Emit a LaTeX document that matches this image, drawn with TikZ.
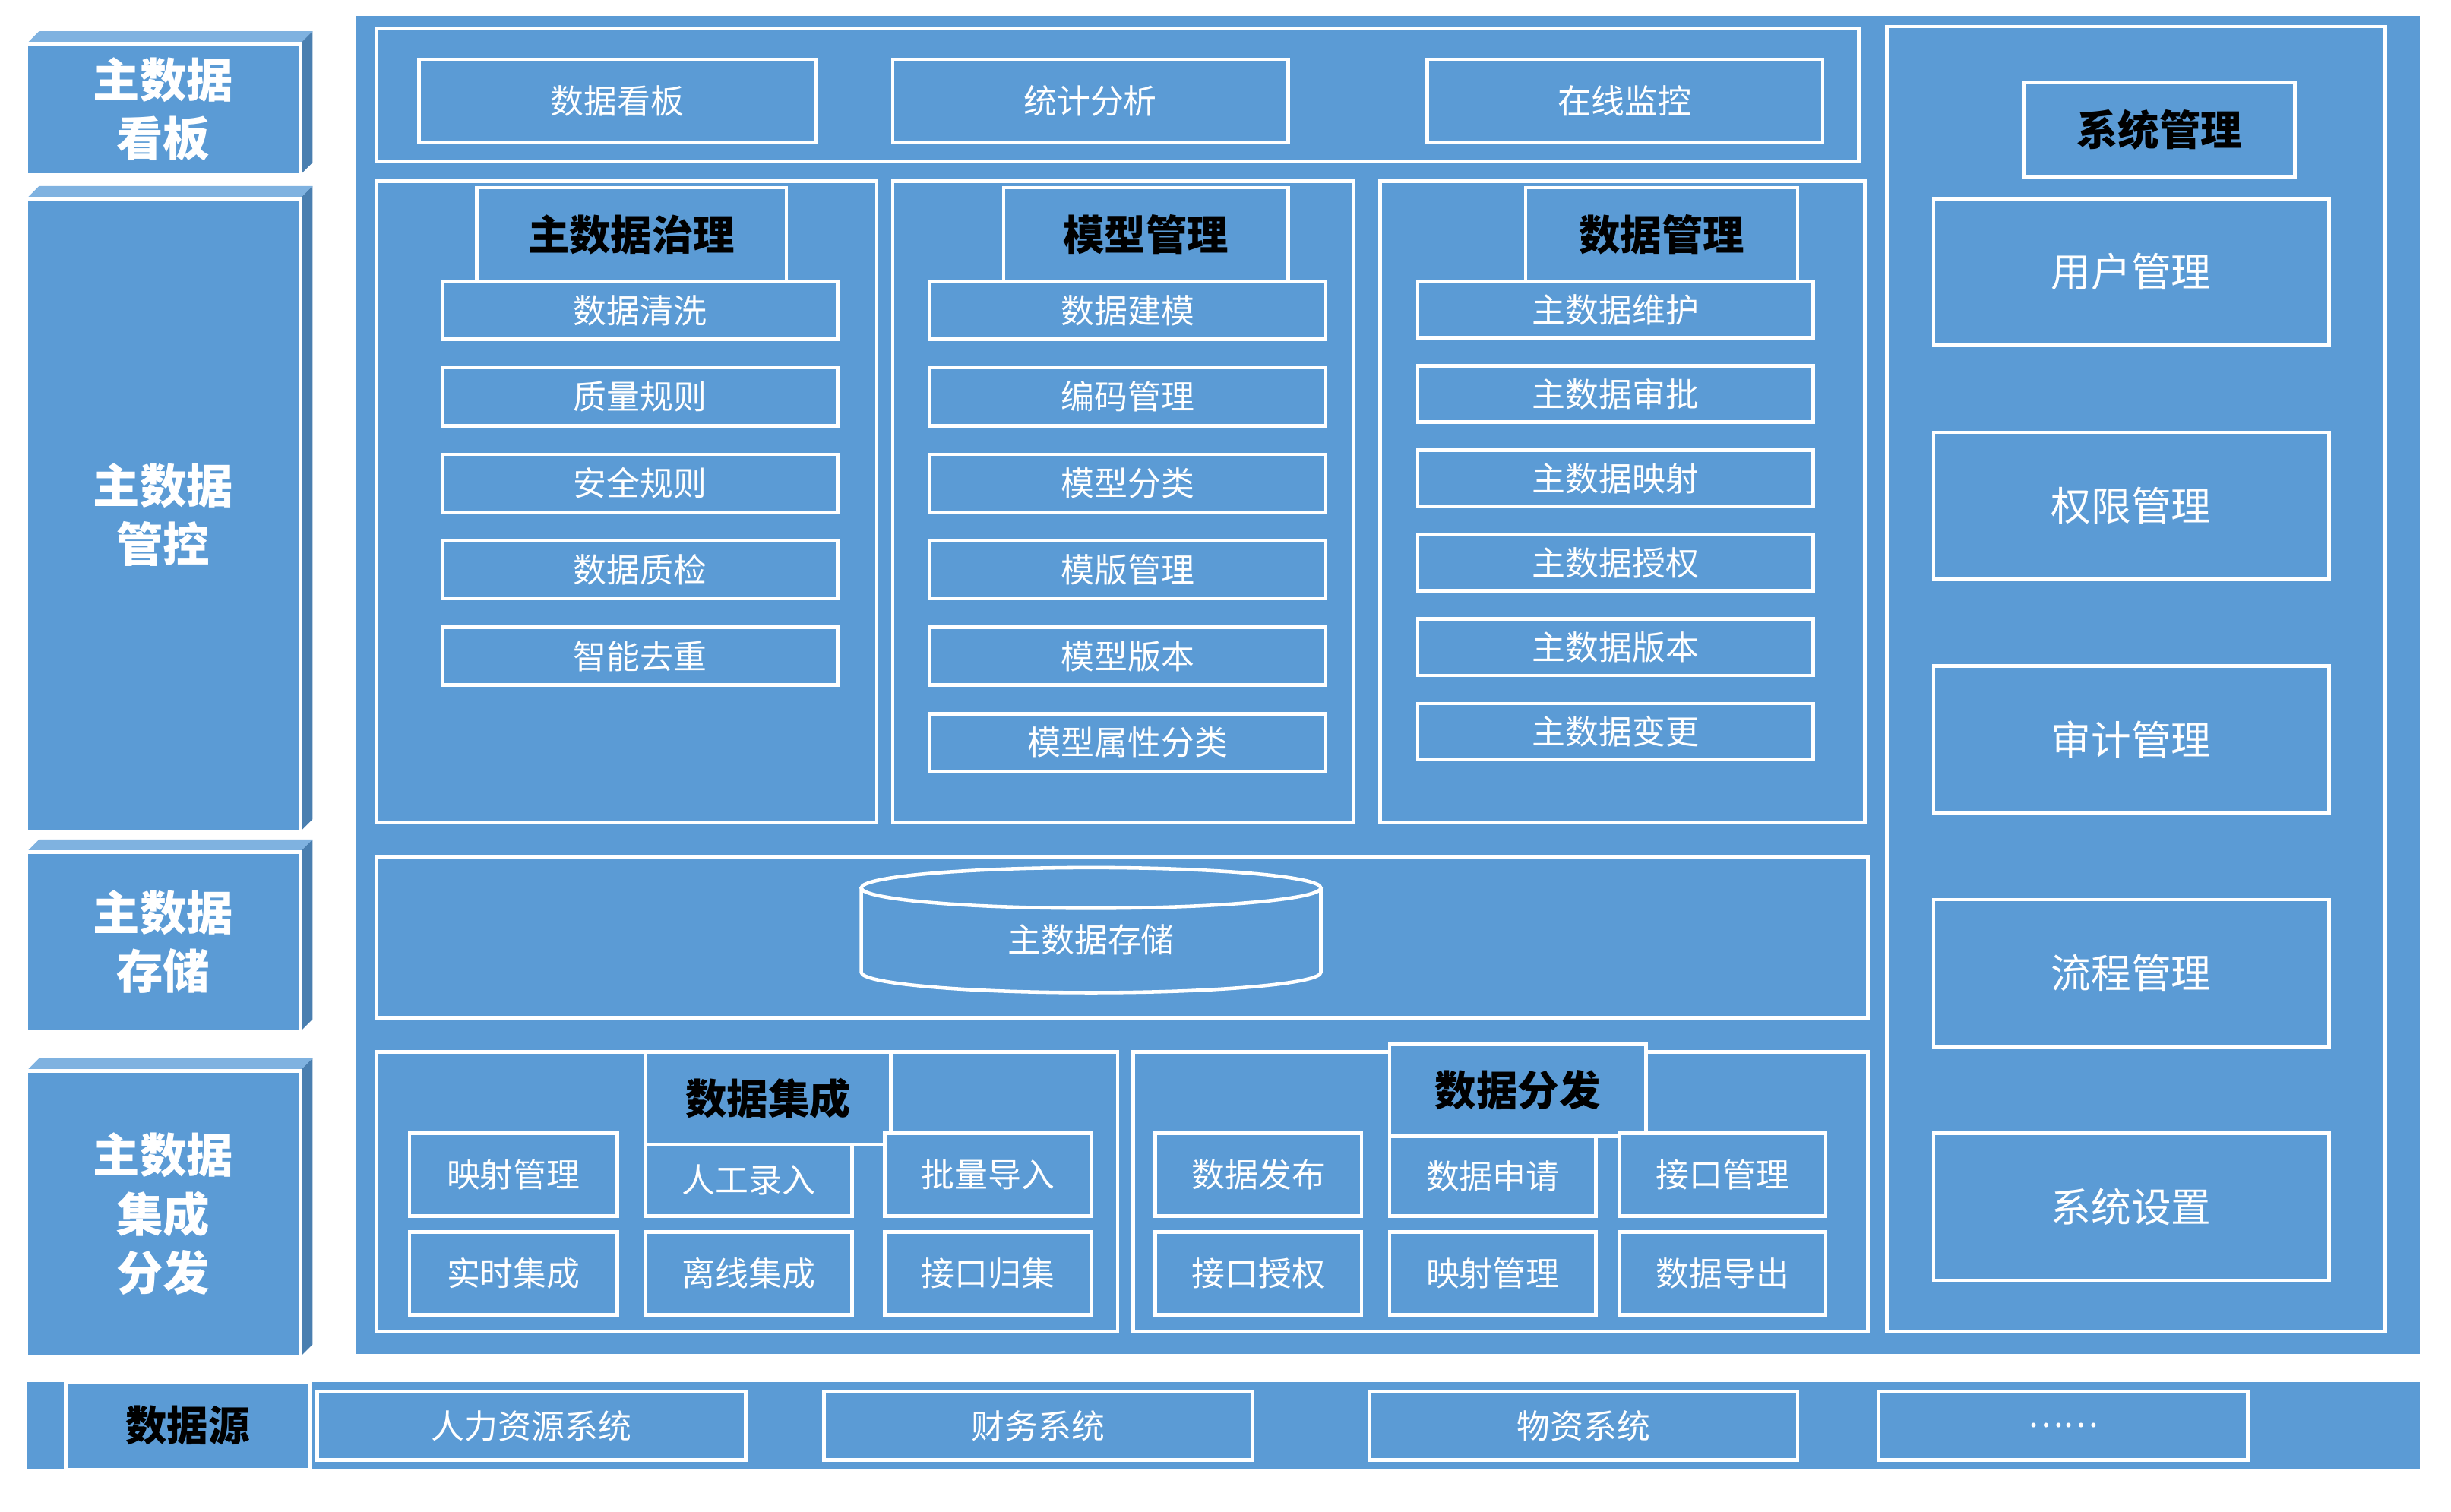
\documentclass[tikz,border=0pt]{standalone}
\usepackage{fontspec}
\setmainfont{Noto Sans CJK SC}
\definecolor{panel}{HTML}{5B9BD5}
\definecolor{side}{HTML}{4A7FB0}
\definecolor{topf}{HTML}{7FB2E0}
\tikzset{
  box/.style={draw=white,fill=panel,line width=1.3pt,inner sep=0pt,text=white,font=\fontsize{12.5}{14}\selectfont},
  head/.style={box,text=black,font=\fontsize{15.5}{17}\selectfont\bfseries},
  big/.style={box,font=\fontsize{17.5}{22}\selectfont\bfseries,align=center}
}
% box from corner (x1,y1) to corner (x2,y2)
\newcommand\blk[7][box]{\node[#1,minimum width={((#5)-(#3))*0.0206cm},minimum height={((#6)-(#4))*0.0206cm}] (#2) at ({((#3)+(#5))/2},{((#4)+(#6))/2}) {#7};}
% left block with top and side faces
\newcommand\cube[6]{
  \fill[topf] (#2,#3) -- ++(8,-8) -- (#4+8,#3-8) -- (#4,#3) -- cycle;
  \fill[side] (#4,#3) -- ++(8,-8) -- (#4+8,#5-8) -- (#4,#5) -- cycle;
  \blk[big]{#1}{#2}{#3}{#4}{#5}{#6}
}
\begin{document}
\begin{tikzpicture}[x=0.0206cm,y=-0.0206cm]
\useasboundingbox (0,0) rectangle (1568,967);
% left column
\cube{lkb}{17}{28}{192}{112}{主数据\\看板}
\cube{lgk}{17}{127}{192}{532}{主数据\\管控}
\cube{lcc}{17}{545}{192}{660}{主数据\\存储}
\cube{lff}{17}{685}{192}{868}{主数据\\集成\\分发}
% main panel
\fill[panel] (228,10) rectangle (1548,866);
\blk{top}{241}{18}{1189}{103}{}
\blk{kb}{268}{38}{522}{91}{数据看板}
\blk{tj}{571}{38}{824}{91}{统计分析}
\blk{jk}{913}{38}{1166}{91}{在线监控}
% governance columns
\blk{zl}{241}{116}{561}{526}{}
\blk{mx}{571}{116}{866}{526}{}
\blk{sj}{883}{116}{1193}{526}{}
\blk[head]{zlh}{305}{120}{503}{180}{主数据治理}
\blk[head]{mxh}{642}{120}{824}{180}{模型管理}
\blk[head]{sjh}{976}{120}{1150}{180}{数据管理}
\foreach \t [count=\i] in {数据清洗,质量规则,安全规则,数据质检,智能去重}
  \blk{zl\i}{283}{180+(\i-1)*55.3}{536}{217+(\i-1)*55.3}{\t};
\foreach \t [count=\i] in {数据建模,编码管理,模型分类,模版管理,模型版本,模型属性分类}
  \blk{mx\i}{595}{180+(\i-1)*55.3}{848}{217+(\i-1)*55.3}{\t};
\foreach \t [count=\i] in {主数据维护,主数据审批,主数据映射,主数据授权,主数据版本,主数据变更}
  \blk{sj\i}{907}{180+(\i-1)*54}{1160}{216+(\i-1)*54}{\t};
% storage
\blk{cc}{241}{548}{1195}{651}{}
\draw[white,line width=1.3pt,fill=panel] (551,568) -- (551,622) arc[start angle=180,end angle=0,x radius=147,y radius=13] -- (845,568);
\draw[white,line width=1.3pt,fill=panel] (698,568) ellipse[x radius=147,y radius=13];
\node[text=white,font=\fontsize{12.5}{14}\selectfont] (db) at (698,601) {主数据存储};
% integration and distribution
\blk{jc}{241}{673}{715}{852}{}
\blk{ff}{725}{673}{1195}{852}{}
\blk[head]{jch}{413}{673}{570}{732}{数据集成}
\blk[head]{ffh}{889}{668}{1053}{727}{数据分发}
\blk{jc1}{262}{725}{395}{778}{映射管理}
\blk{jc2}{413}{732}{545}{778}{人工录入}
\blk{jc3}{566}{725}{698}{778}{批量导入}
\blk{jc4}{262}{788}{395}{841}{实时集成}
\blk{jc5}{413}{788}{545}{841}{离线集成}
\blk{jc6}{566}{788}{698}{841}{接口归集}
\blk{ff1}{739}{725}{871}{778}{数据发布}
\blk{ff2}{889}{727}{1021}{778}{数据申请}
\blk{ff3}{1036}{725}{1168}{778}{接口管理}
\blk{ff4}{739}{788}{871}{841}{接口授权}
\blk{ff5}{889}{788}{1021}{841}{映射管理}
\blk{ff6}{1036}{788}{1168}{841}{数据导出}
% system management
\blk{xt}{1207}{17}{1526}{852}{}
\blk[head]{xth}{1295}{53}{1468}{113}{系统管理}
\foreach \t [count=\i] in {用户管理,权限管理,审计管理,流程管理,系统设置}
  \blk[box,font=\fontsize{15}{17}\selectfont]{xt\i}{1237}{127+(\i-1)*149.5}{1490}{221+(\i-1)*149.5}{\t};
% data sources
\fill[panel] (17,884) rectangle (1548,940);
\blk[head]{src}{42}{884}{198}{940}{数据源}
\blk{s1}{203}{890}{477}{934}{人力资源系统}
\blk{s2}{527}{890}{801}{934}{财务系统}
\blk{s3}{876}{890}{1150}{934}{物资系统}
\blk{s4}{1202}{890}{1438}{934}{……}
\end{tikzpicture}
\end{document}
